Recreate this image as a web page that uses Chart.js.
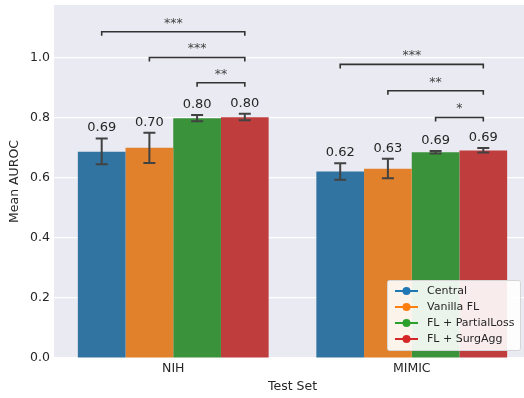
<!DOCTYPE html>
<html lang="en">
<head>
<meta charset="UTF-8">
<title>Mean AUROC by test set</title>
<script src="https://cdn.jsdelivr.net/npm/chart.js"></script>
<style>
  html, body { margin: 0; padding: 0; background: #fff; overflow: hidden; }
  /* the plot runs a few pixels past the right edge, as in the original figure */
  #wrap { width: 524px; height: 398px; overflow: hidden; }
  #chart { display: block; }
</style>
</head>
<body>
<div id="wrap"><canvas id="chart" width="531" height="398"></canvas></div>
<script>
const testSets = ['NIH', 'MIMIC'];
const methods = ['Central', 'Vanilla FL', 'FL + PartialLoss', 'FL + SurgAgg'];
// mean AUROC per method, one value per test set
const meanAuroc = [
  [0.688, 0.622],
  [0.701, 0.631],
  [0.799, 0.686],
  [0.803, 0.692]
];
const errLow = [
  [0.646, 0.594],
  [0.650, 0.599],
  [0.789, 0.682],
  [0.793, 0.685]
];
const errHigh = [
  [0.732, 0.649],
  [0.751, 0.664],
  [0.810, 0.690],
  [0.814, 0.700]
];
const yTicks = [0.0, 0.2, 0.4, 0.6, 0.8, 1.0];
// significance brackets
const bracketSet   = [0, 0, 0, 1, 1, 1];
const bracketFrom  = [0, 1, 2, 0, 1, 2];
const bracketTo    = [3, 3, 3, 3, 3, 3];
const bracketY     = [1.088, 1.002, 0.918, 0.979, 0.891, 0.802];
const bracketStars = ['***', '***', '**', '***', '**', '*'];

const barColors = ['#3274a1', '#e1812c', '#3a923a', '#c03d3e'];
const legendColors = ['#1f77b4', '#ff7f0e', '#2ca02c', '#d62728'];
const textColor = '#262626';
const FONT = '"DejaVu Sans", sans-serif';

const bgPlugin = {
  id: 'bg',
  beforeDraw(chart) {
    const { ctx, chartArea: a } = chart;
    ctx.save();
    ctx.fillStyle = '#eaeaf2';
    ctx.fillRect(a.left, a.top, a.right - a.left, a.bottom - a.top);
    ctx.restore();
  }
};

const extrasPlugin = {
  id: 'extras',
  afterDatasetsDraw(chart) {
    const { ctx } = chart;
    const y = chart.scales.y;
    ctx.save();
    // error bars + value labels
    methods.forEach((m, i) => {
      const meta = chart.getDatasetMeta(i);
      meta.data.forEach((bar, j) => {
        const x = bar.x;
        const lo = y.getPixelForValue(errLow[i][j]);
        const hi = y.getPixelForValue(errHigh[i][j]);
        ctx.strokeStyle = '#424242';
        ctx.lineWidth = 2;
        ctx.beginPath();
        ctx.moveTo(x, lo); ctx.lineTo(x, hi);
        ctx.moveTo(x - 6, lo); ctx.lineTo(x + 6, lo);
        ctx.moveTo(x - 6, hi); ctx.lineTo(x + 6, hi);
        ctx.stroke();
        ctx.fillStyle = textColor;
        ctx.font = '13px ' + FONT;
        ctx.textAlign = 'center';
        ctx.textBaseline = 'bottom';
        ctx.fillText(meanAuroc[i][j].toFixed(2), x, hi - 4);
      });
    });
    // significance brackets
    bracketY.forEach((v, k) => {
      const s = bracketSet[k];
      const x1 = chart.getDatasetMeta(bracketFrom[k]).data[s].x;
      const x2 = chart.getDatasetMeta(bracketTo[k]).data[s].x;
      const py = y.getPixelForValue(v);
      ctx.strokeStyle = '#333';
      ctx.lineWidth = 1.6;
      ctx.beginPath();
      ctx.moveTo(x1, py + 4); ctx.lineTo(x1, py); ctx.lineTo(x2, py); ctx.lineTo(x2, py + 4);
      ctx.stroke();
      ctx.fillStyle = '#444';
      ctx.font = '12.5px ' + FONT;
      ctx.textAlign = 'center';
      ctx.textBaseline = 'alphabetic';
      ctx.fillText(bracketStars[k], (x1 + x2) / 2, py - 5);
    });
    ctx.restore();
  },
  afterDraw(chart) {
    const { ctx, chartArea: a } = chart;
    const w = 133, h = 70;
    const bx = 387, by = a.bottom - 8 - h;
    ctx.save();
    ctx.fillStyle = 'rgba(255,255,255,0.9)';
    ctx.strokeStyle = '#d6d6d6';
    ctx.lineWidth = 1;
    ctx.beginPath();
    ctx.roundRect(bx + 0.5, by + 0.5, w, h, 2);
    ctx.fill(); ctx.stroke();
    methods.forEach((m, i) => {
      const cy = by + 11 + i * 16;
      ctx.strokeStyle = legendColors[i];
      ctx.lineWidth = 2;
      ctx.beginPath();
      ctx.moveTo(bx + 8, cy); ctx.lineTo(bx + 31, cy);
      ctx.stroke();
      ctx.fillStyle = legendColors[i];
      ctx.beginPath();
      ctx.arc(bx + 19.5, cy, 4, 0, Math.PI * 2);
      ctx.fill();
      ctx.fillStyle = textColor;
      ctx.font = '11px ' + FONT;
      ctx.textAlign = 'left';
      ctx.textBaseline = 'middle';
      ctx.fillText(m, bx + 40, cy);
    });
    ctx.restore();
  }
};

new Chart(document.getElementById('chart'), {
  type: 'bar',
  data: {
    labels: testSets,
    datasets: methods.map((m, i) => ({
      label: m,
      data: meanAuroc[i],
      backgroundColor: barColors[i],
      borderWidth: 0,
      barPercentage: 1.0,
      categoryPercentage: 0.8
    }))
  },
  options: {
    responsive: false,
    animation: false,
    devicePixelRatio: 1,
    layout: { padding: { top: 5, right: 0, left: 0, bottom: 0 } },
    plugins: { legend: { display: false }, tooltip: { enabled: false } },
    scales: {
      x: {
        grid: { display: false, drawTicks: false },
        border: { display: false },
        ticks: { color: textColor, font: { family: FONT, size: 12.5 }, padding: 3 },
        title: { display: true, text: 'Test Set', color: textColor,
                 font: { family: FONT, size: 12.5 }, padding: { top: 0, bottom: 4 } },
        afterFit(s) { s.height = 40; s.paddingLeft = 0; s.paddingRight = 0; }
      },
      y: {
        min: 0,
        max: 1.177,
        afterBuildTicks(s) { s.ticks = yTicks.map(v => ({ value: v })); },
        grid: { color: '#ffffff', lineWidth: 1.2, drawTicks: false },
        border: { display: false },
        ticks: { color: textColor, font: { family: FONT, size: 12.5 }, padding: 4,
                 callback: v => v.toFixed(1) },
        title: { display: true, text: 'Mean AUROC', color: textColor,
                 font: { family: FONT, size: 12.5 }, padding: { top: 7.5, bottom: 0 } },
        afterFit(s) { s.width = 54; s.paddingTop = 0; s.paddingBottom = 0; }
      }
    }
  },
  plugins: [bgPlugin, extrasPlugin]
});
</script>
</body>
</html>
